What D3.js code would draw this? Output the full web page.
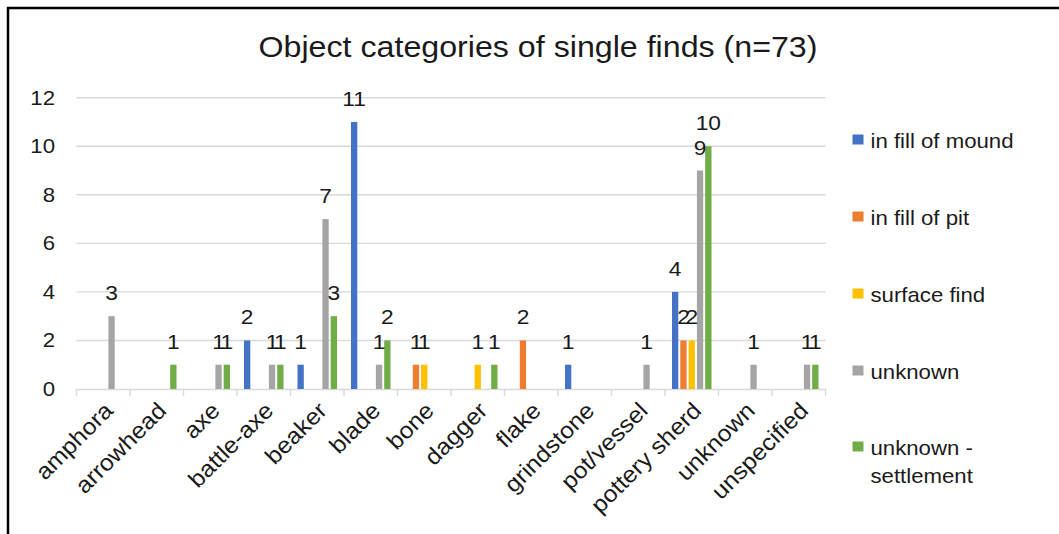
<!DOCTYPE html>
<html>
<head>
<meta charset="utf-8">
<script src="https://cdn.jsdelivr.net/npm/d3@7/dist/d3.min.js"></script>
<style>
  html, body { margin: 0; padding: 0; background: #fff; }
  svg { display: block; font-family: "Liberation Sans", Arial, sans-serif; }
</style>
</head>
<body>
<svg id="chart" width="1059" height="534"></svg>
<script>
// Object categories on the x axis
const categories = ["amphora", "arrowhead", "axe", "battle-axe", "beaker", "blade", "bone",
  "dagger", "flake", "grindstone", "pot/vessel", "pottery sherd", "unknown", "unspecified"];

// Find contexts (series)
const seriesNames = ["in fill of mound", "in fill of pit", "surface find", "unknown", "unknown - settlement"];
const seriesColors = ["#4472C4", "#ED7D31", "#FFC000", "#A5A5A5", "#70AD47"];

// Counts per category, one array per series (0 = no find)
const inFillOfMound       = [0, 0, 0, 2, 1, 11, 0, 0, 0, 1, 0, 4, 0, 0];
const inFillOfPit         = [0, 0, 0, 0, 0, 0, 1, 0, 2, 0, 0, 2, 0, 0];
const surfaceFind         = [0, 0, 0, 0, 0, 0, 1, 1, 0, 0, 0, 2, 0, 0];
const unknownContext      = [3, 0, 1, 1, 7, 1, 0, 0, 0, 0, 1, 9, 1, 1];
const unknownSettlement   = [0, 1, 1, 1, 3, 2, 0, 1, 0, 0, 0, 10, 0, 1];

const yTicks = [0, 2, 4, 6, 8, 10, 12];
const chartTitle = "Object categories of single finds (n=73)";

const seriesValues = [inFillOfMound, inFillOfPit, surfaceFind, unknownContext, unknownSettlement];

// Glyphs are drawn slightly wide
const SX = 1.11;
const textColor = "#1a1a1a";
const gridColor = "#d9d9d9";

const svg = d3.select("#chart");

// Frame lines (top and left)
svg.append("line").attr("x1", 7).attr("x2", 1059).attr("y1", 8).attr("y2", 8)
  .attr("stroke", "#000").attr("stroke-width", 2.5);
svg.append("line").attr("x1", 8).attr("x2", 8).attr("y1", 7).attr("y2", 534)
  .attr("stroke", "#000").attr("stroke-width", 2.5);

const x = d3.scaleBand().domain(categories).range([76.5, 825.5]).padding(0);
const xInner = d3.scaleBand().domain(seriesNames)
  .range([-20.75, 20.75]).paddingInner(0.24).paddingOuter(0.12);
const y = d3.scaleLinear().domain([0, 12]).range([389, 97.7]);

// Horizontal gridlines
svg.append("g").selectAll("line").data(yTicks.filter(d => d > 0)).join("line")
  .attr("x1", 76.5).attr("x2", 825.5)
  .attr("y1", d => y(d)).attr("y2", d => y(d))
  .attr("stroke", gridColor).attr("stroke-width", 1.4);

// Y tick labels
svg.append("g").selectAll("text").data(yTicks).join("text")
  .attr("transform", d => `translate(55,${y(d) + 7}) scale(${SX},1)`)
  .attr("text-anchor", "end")
  .attr("font-size", 20)
  .attr("fill", textColor)
  .text(d => d);

// X axis line and tick marks at category boundaries
const xAxis = d3.axisBottom(x).tickSize(0).tickFormat("");
const gx = svg.append("g").attr("transform", `translate(0,${y(0)})`).call(xAxis);
gx.select(".domain").attr("stroke", gridColor).attr("stroke-width", 1.4);
const boundaries = categories.map(c => x(c)).concat([x.range()[1]]);
gx.selectAll(".bnd").data(boundaries).join("line").attr("class", "bnd")
  .attr("x1", d => d).attr("x2", d => d).attr("y1", 0).attr("y2", 7)
  .attr("stroke", gridColor).attr("stroke-width", 1.4);

// X tick labels, rotated 45 degrees
svg.append("g").selectAll("text").data(categories).join("text")
  .attr("transform", d => `translate(${x(d) + x.bandwidth() / 2 + 11},412) rotate(-45) scale(1.08,1)`)
  .attr("text-anchor", "end")
  .attr("font-size", 23)
  .attr("fill", textColor)
  .text(d => d);

// Bars and value labels
const barData = [];
seriesNames.forEach((s, si) => {
  categories.forEach((c, ci) => {
    const v = seriesValues[si][ci];
    if (v > 0) barData.push({ s, si, c, v });
  });
});

svg.append("g").selectAll("rect").data(barData).join("rect")
  .attr("x", d => x(d.c) + x.bandwidth() / 2 + xInner(d.s))
  .attr("width", xInner.bandwidth())
  .attr("y", d => y(d.v))
  .attr("height", d => y(0) - y(d.v))
  .attr("fill", d => seriesColors[d.si]);

svg.append("g").selectAll("text").data(barData).join("text")
  .attr("transform", d => `translate(${x(d.c) + x.bandwidth() / 2 + xInner(d.s) + xInner.bandwidth() / 2},${y(d.v) - 16}) scale(${SX},1)`)
  .attr("text-anchor", "middle")
  .attr("font-size", 20.5)
  .attr("fill", textColor)
  .text(d => d.v);

// Title
svg.append("text")
  .attr("transform", `translate(538,57) scale(${SX},1)`)
  .attr("text-anchor", "middle")
  .attr("font-size", 29)
  .attr("fill", textColor)
  .text(chartTitle);

// Legend
const legendBaselines = [148, 225, 302, 379, 455];
const legend = svg.append("g");
seriesNames.forEach((s, i) => {
  const b = legendBaselines[i];
  legend.append("rect")
    .attr("x", 852.5).attr("y", b - 13.5).attr("width", 11).attr("height", 10)
    .attr("fill", seriesColors[i]);
  const lines = s === "unknown - settlement" ? ["unknown -", "settlement"] : [s];
  lines.forEach((ln, li) => {
    legend.append("text")
      .attr("transform", `translate(870.5,${b + li * 27.5}) scale(${SX},1)`)
      .attr("font-size", 20)
      .attr("fill", textColor)
      .text(ln);
  });
});
</script>
</body>
</html>
